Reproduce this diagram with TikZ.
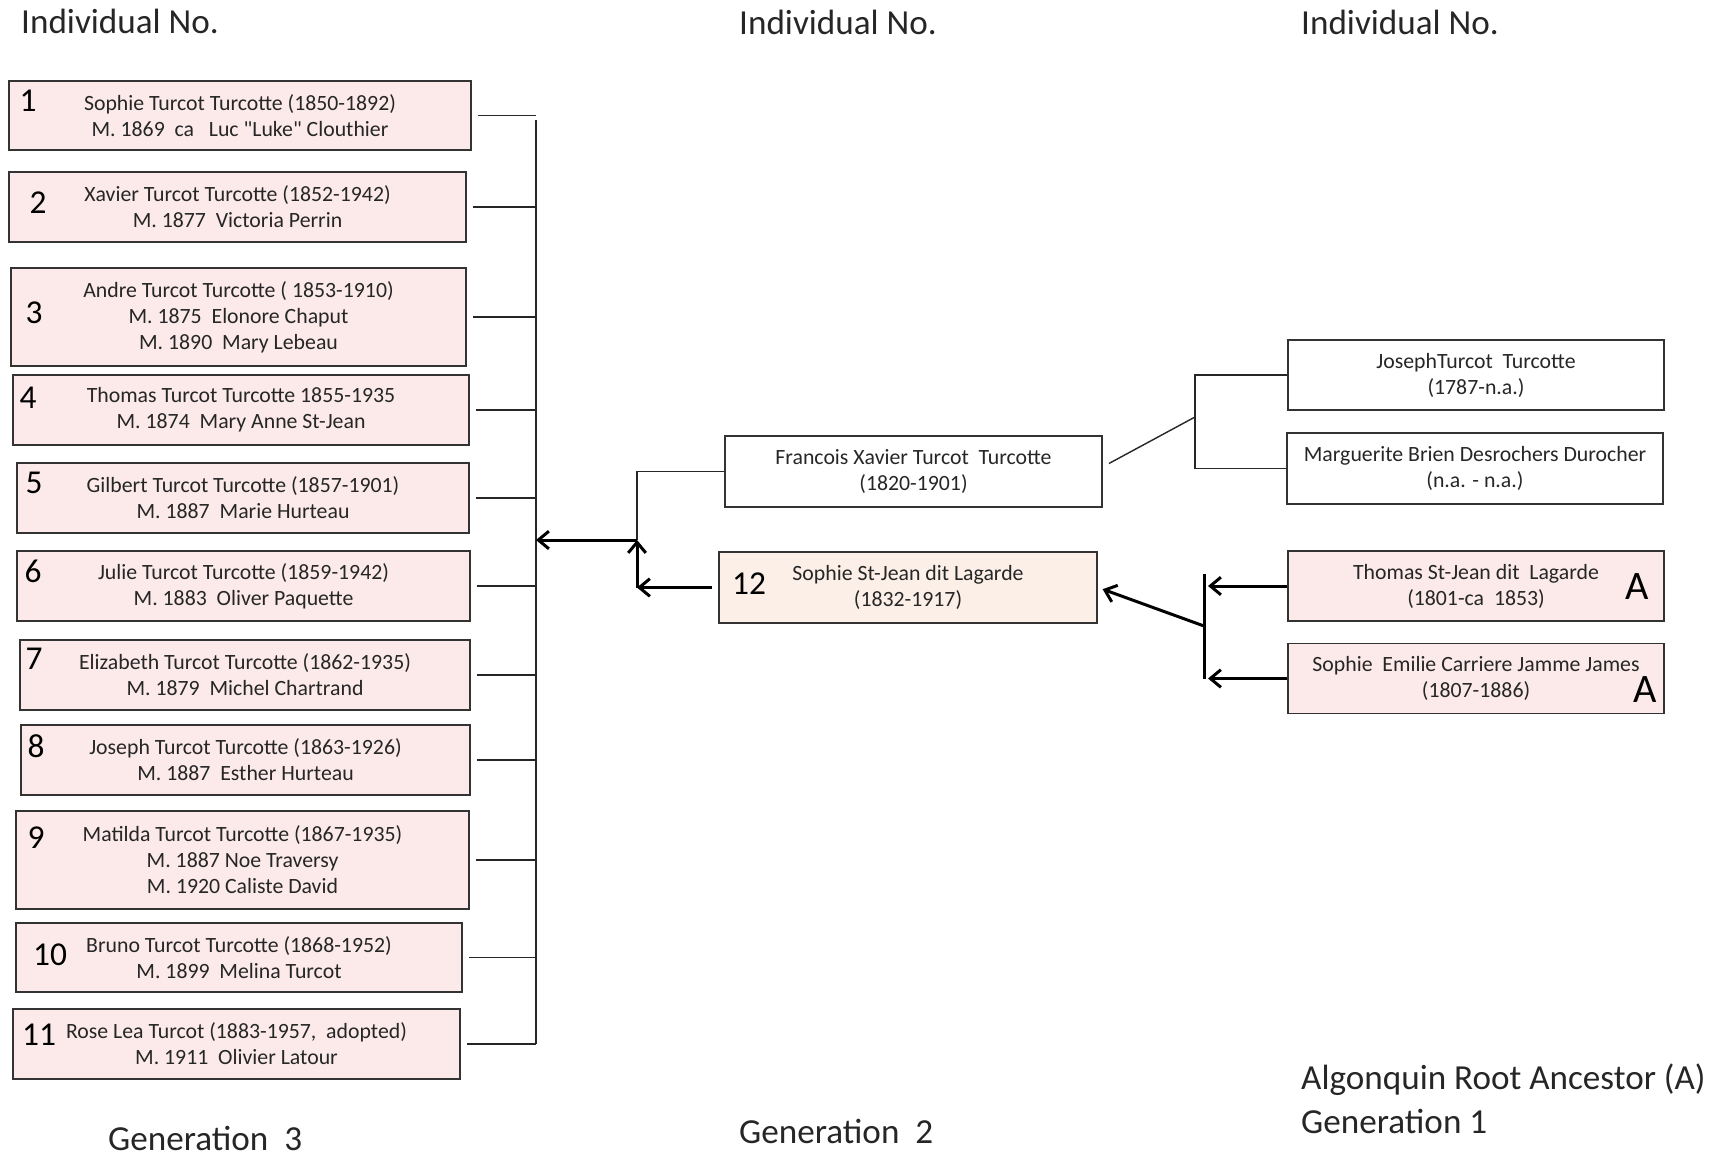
\documentclass[tikz,border=0pt]{standalone}
\usepackage{fontspec}
\setmainfont{Carlito}
\usetikzlibrary{arrows.meta,positioning}

\definecolor{boxpink}{RGB}{252,234,234}
\definecolor{boxpeach}{RGB}{252,239,231}

\tikzset{
  person/.style={draw=black!80, line width=1.1pt, inner sep=0pt, align=center,
    text=black!85, font=\fontsize{12.4}{14.8}\selectfont},
  gen3/.style={person, fill=boxpink},
  indno/.style={font=\fontsize{19}{22}\selectfont},
  heading/.style={anchor=west, text=black!85, font=\fontsize{20}{24}\selectfont},
  link/.style={line width=0.8pt, black!85},
  desc/.style={line width=1.7pt, -{Straight Barb[length=6pt,width=10pt]}},
}

\begin{document}
\begin{tikzpicture}[x=0.02cm,y=-0.02cm]
\useasboundingbox (0,0) rectangle (1709,1156);

% headings
\node[heading] (hd1) at (15,21) {Individual No.};
\node[heading] (hd2) at (733,22) {Individual No.};
\node[heading] (hd3) at (1295,22) {Individual No.};

% generation 3
\node[gen3, minimum width=9.24cm, minimum height=1.38cm] (b1) at (240,115.5)
  {Sophie Turcot Turcotte (1850-1892)\\M. 1869~ ca~~ Luc \textquotedbl Luke\textquotedbl\ Clouthier};
\node[gen3, minimum width=9.14cm, minimum height=1.4cm] (b2) at (237.5,207)
  {Xavier Turcot Turcotte (1852-1942)\\M. 1877~ Victoria Perrin};
\node[gen3, minimum width=9.10cm, minimum height=1.96cm] (b3) at (238.5,317)
  {Andre Turcot Turcotte ( 1853-1910)\\M. 1875~ Elonore Chaput\\M. 1890~ Mary Lebeau};
\node[gen3, minimum width=9.12cm, minimum height=1.4cm] (b4) at (241,410)
  {Thomas Turcot Turcotte 1855-1935\\M. 1874~ Mary Anne St-Jean};
\node[gen3, minimum width=9.04cm, minimum height=1.4cm] (b5) at (243,498)
  {Gilbert Turcot Turcotte (1857-1901)\\M. 1887~ Marie Hurteau};
\node[gen3, minimum width=9.06cm, minimum height=1.4cm] (b6) at (243.5,586)
  {Julie Turcot Turcotte (1859-1942)\\M. 1883~ Oliver Paquette};
\node[gen3, minimum width=9.00cm, minimum height=1.4cm] (b7) at (245,675)
  {Elizabeth Turcot Turcotte (1862-1935)\\M. 1879~ Michel Chartrand};
\node[gen3, minimum width=8.98cm, minimum height=1.4cm] (b8) at (245.5,760)
  {Joseph Turcot Turcotte (1863-1926)\\M. 1887~ Esther Hurteau};
\node[gen3, minimum width=9.06cm, minimum height=1.96cm] (b9) at (242.5,860)
  {Matilda Turcot Turcotte (1867-1935)\\M. 1887 Noe Traversy\\M. 1920 Caliste David};
\node[gen3, minimum width=8.92cm, minimum height=1.38cm] (b10) at (239,957.5)
  {Bruno Turcot Turcotte (1868-1952)\\M. 1899~ Melina Turcot};
\node[gen3, minimum width=8.94cm, minimum height=1.4cm] (b11) at (236.5,1044)
  {Rose Lea Turcot (1883-1957,~ adopted)\\M. 1911~ Olivier Latour};

\node[indno] (no1) at (28,101) {1};
\node[indno] (no2) at (38,203) {2};
\node[indno] (no3) at (34,313) {3};
\node[indno] (no4) at (28,398) {4};
\node[indno] (no5) at (34,483) {5};
\node[indno] (no6) at (33,571) {6};
\node[indno] (no7) at (34,659) {7};
\node[indno] (no8) at (36,746) {8};
\node[indno] (no9) at (36,838) {9};
\node[indno] (no10) at (50,955) {10};
\node[indno] (no11) at (39,1035) {11};

% generation 2
\node[person, minimum width=7.54cm, minimum height=1.42cm] (fx) at (913.5,471.5)
  {Francois Xavier Turcot~ Turcotte\\(1820-1901)};
\node[person, fill=boxpeach, minimum width=7.56cm, minimum height=1.42cm] (s12) at (908,587.5)
  {Sophie St-Jean dit Lagarde\\(1832-1917)};
\node[indno] (no12) at (749,584) {12};

% generation 1
\node[person, minimum width=7.52cm, minimum height=1.4cm] (jt) at (1476,375)
  {JosephTurcot~ Turcotte\\(1787-n.a.)};
\node[person, minimum width=7.52cm, minimum height=1.42cm] (mb) at (1475,468.5)
  {Marguerite Brien Desrochers Durocher\\(n.a. - n.a.)};
\node[gen3, minimum width=7.52cm, minimum height=1.4cm] (ts) at (1476,586)
  {Thomas St-Jean dit~ Lagarde\\(1801-ca~ 1853)};
\node[gen3, minimum width=7.52cm, minimum height=1.4cm] (se) at (1476,678.5)
  {Sophie~ Emilie Carriere Jamme James\\(1807-1886)};
\node[font=\fontsize{23}{26}\selectfont] (anc1) at (1637,587) {A};
\node[font=\fontsize{23}{26}\selectfont] (anc2) at (1645,690) {A};

% footers
\node[heading] (gen3lbl) at (102,1138) {Generation~~3};
\node[heading] (gen2lbl) at (733,1131) {Generation~~2};
\node[heading] (rootlbl) at (1295,1080) {Algonquin Root Ancestor (A)};
\node[heading] (gen1lbl) at (1295,1121) {Generation 1};

% children to trunk
\coordinate (trunktop) at (536,120);
\coordinate (trunkbot) at (536,1044);
\draw[link] (trunktop) -- (trunkbot);
\foreach \i in {1,...,11}
  \draw[link, shorten <=0.12cm] (b\i.east) -- (b\i.east -| trunktop);

% parents to children
\coordinate (mid) at (637,540);
\draw[link] (fx.west) -| (mid);
\draw[desc, shorten <=0.12cm] (s12.west) -- (s12.west -| mid);
\draw[desc] (s12.west -| mid) -- (mid);
\draw[desc] (mid) -- (mid -| trunktop);

% grandparents
\coordinate (fxbr) at (1195,417);
\draw[link] (fx.east) ++(6,-8) -- (fxbr);
\draw[link] (jt.west) -| (fxbr) |- (mb.west);

\coordinate (tsbr) at (1204,626);
\draw[line width=1.7pt] (ts.west -| tsbr) ++(0,-12) -- (se.west -| tsbr);
\draw[desc, shorten >=0.08cm] (ts.west) -- (ts.west -| tsbr);
\draw[desc, shorten >=0.08cm] (se.west) -- (se.west -| tsbr);
\draw[desc, shorten >=0.1cm] (tsbr) -- (s12.east);
\end{tikzpicture}
\end{document}
